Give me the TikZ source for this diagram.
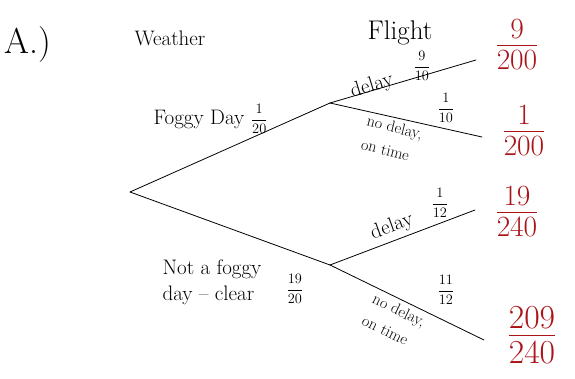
\RequirePackage{fix-cm}
\documentclass[tikz,border=0pt]{standalone}
\usepackage{amsmath}
\usetikzlibrary{positioning}
\definecolor{resred}{RGB}{170,20,25}
\tikzset{
  branch/.style={thick, line cap=round},
  lbl/.style={font=\fontsize{21}{26}\selectfont},
  small lbl/.style={font=\fontsize{16}{24}\selectfont, align=left, inner sep=1pt},
  prob/.style={font=\Large, inner sep=1pt},
  result/.style={font=\fontsize{42}{46}\selectfont, text=resred, inner sep=1pt}
}
\begin{document}
\begin{tikzpicture}[x=1pt, y=-1pt]
        \useasboundingbox (0,0) rectangle (575,379);

        % Uzly stromu
        \coordinate (root) at (130,192);
        \coordinate (fog) at (330,103);
        \coordinate (clear) at (330,265);
        \coordinate (fogdelay) at (476,60);
        \coordinate (fogontime) at (482,137);
        \coordinate (cleardelay) at (475,210);
        \coordinate (clearontime) at (484,340);

        % Vetve
        \draw[branch] (root) -- (fog);
        \draw[branch] (root) -- (clear);
        \draw[branch] (fog) -- (fogdelay);
        \draw[branch] (fog) -- (fogontime);
        \draw[branch] (clear) -- (cleardelay);
        \draw[branch] (clear) -- (clearontime);

        % Nadpisy
        \node[font=\fontsize{36}{40}\selectfont] (title) at (28,45) {A.)};
        \node[lbl] (weather) at (170,38) {Weather};
        \node[font=\fontsize{27}{30}\selectfont] (flight) at (400,33) {Flight};

        % Pocasi
        \node[lbl] (foglbl) at (199,119) {Foggy Day};
        \node[prob, right=2pt of foglbl] (fogp) {$\dfrac{1}{20}$};
        \node[lbl, align=left] (clearlbl) at (212,282) {Not a foggy\\day -- clear};
        \node[prob] (clearp) at (295,289) {$\dfrac{19}{20}$};

        % Let - mlhavy den
        \node[lbl, rotate=17] (fdlbl) at (372,86) {delay};
        \node[prob] (fdp) at (422,66) {$\dfrac{9}{10}$};
        \node[small lbl, rotate=-14] (folbl) at (392,139) {no delay,\\on time};
        \node[prob] (fop) at (446,108) {$\dfrac{1}{10}$};

        % Let - jasny den
        \node[lbl, rotate=20] (cdlbl) at (392,227) {delay};
        \node[prob] (cdp) at (440,203) {$\dfrac{1}{12}$};
        \node[small lbl, rotate=-26] (colbl) at (394,321) {no delay,\\on time};
        \node[prob] (cop) at (446,290) {$\dfrac{11}{12}$};

        % Vysledne pravdepodobnosti
        \node[result] (r1) at (517,45) {$\frac{9}{200}$};
        \node[result] (r2) at (524,131) {$\frac{1}{200}$};
        \node[result] (r3) at (517,212) {$\frac{19}{240}$};
        \node[result, font=\fontsize{48}{52}\selectfont] (r4) at (532,335) {$\frac{209}{240}$};

\end{tikzpicture}
\end{document}
